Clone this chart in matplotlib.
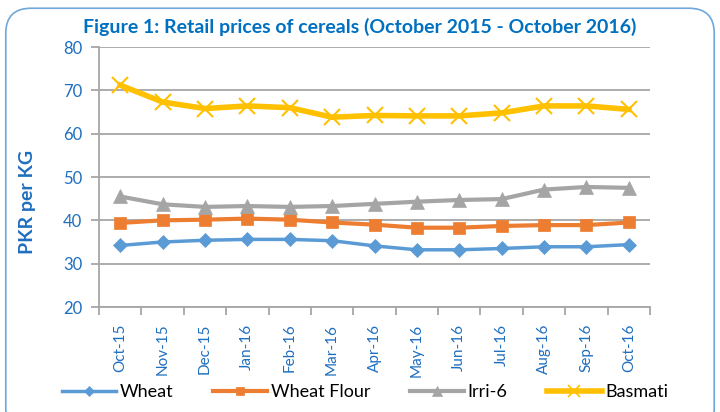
import matplotlib
matplotlib.use("Agg")
import matplotlib.pyplot as plt
from matplotlib.patches import FancyBboxPatch
from matplotlib.lines import Line2D
import numpy as np

months = ["Oct-15", "Nov-15", "Dec-15", "Jan-16", "Feb-16", "Mar-16", "Apr-16",
          "May-16", "Jun-16", "Jul-16", "Aug-16", "Sep-16", "Oct-16"]
wheat = [34.2, 35.0, 35.4, 35.6, 35.6, 35.3, 34.1, 33.2, 33.2, 33.5, 33.9, 33.9, 34.4]
wheat_flour = [39.4, 40.0, 40.15, 40.4, 40.15, 39.5, 39.0, 38.3, 38.3, 38.7, 38.9, 38.9, 39.5]
irri6 = [45.5, 43.7, 43.1, 43.3, 43.1, 43.3, 43.8, 44.3, 44.7, 44.9, 47.1, 47.7, 47.5]
basmati = [71.2, 67.3, 65.8, 66.4, 66.0, 63.8, 64.2, 64.1, 64.1, 64.8, 66.4, 66.4, 65.6]
yticks = [20, 30, 40, 50, 60, 70, 80]

FONT = ["Lato", "DejaVu Sans"]
plt.rcParams["font.family"] = FONT
BLUE = "#1F6FBF"
GRID = "#A6A6A6"

fig = plt.figure(figsize=(7.2, 4.12), dpi=100)
border = FancyBboxPatch((0.008, -0.05), 0.984, 1.03, boxstyle="round,pad=0,rounding_size=0.035",
                        transform=fig.transFigure, fill=False, edgecolor="#6FA8DC", linewidth=1.2,
                        mutation_aspect=720/412)
fig.patches.append(border)

ax = fig.add_axes([99/720, 1-307/412, (650-99)/720, (307-47)/412])
x = np.arange(len(months))

series = [
    (wheat, "Wheat", "#5B9BD5", "D", 7.5, 2.5),
    (wheat_flour, "Wheat Flour", "#ED7D31", "s", 9, 3.0),
    (irri6, "Irri-6", "#A5A5A5", "^", 10, 3.0),
    (basmati, "Basmati", "#FFC000", "x", 12, 4.0),
]
for vals, name, col, mk, ms, lw in series:
    ax.plot(x, vals, color=col, marker=mk, markersize=ms, linewidth=lw, label=name,
            markeredgewidth=1.5 if mk == "x" else 0.5, markeredgecolor=col, zorder=3)

ax.set_xlim(-0.5, len(months) - 0.5)
ax.set_ylim(20, 80)
ax.set_yticks(yticks)
ax.set_yticklabels([str(t) for t in yticks], color=BLUE, fontsize=12)
ax.yaxis.grid(True, color=GRID, linewidth=1.3)
ax.set_axisbelow(True)
ax.set_xticks(x)
ax.set_xticklabels(months, rotation=90, color=BLUE, fontsize=11)
ax.set_xticks(np.arange(-0.5, len(months), 1), minor=True)
ax.tick_params(axis="x", which="major", length=0, pad=12)
ax.tick_params(axis="x", which="minor", length=6, color=GRID, width=1.3)
ax.tick_params(axis="y", length=6, color=GRID, width=1.3, pad=6)
for s in ["top", "right"]:
    ax.spines[s].set_visible(False)
for s in ["left", "bottom"]:
    ax.spines[s].set_color(GRID)
    ax.spines[s].set_linewidth(1.3)

fig.text(28/720, 1-202/412, "PKR per KG", rotation=90, ha="center", va="center",
         color=BLUE, fontsize=14, fontweight="bold")
fig.text(0.5, 1-27/412, "Figure 1: Retail prices of cereals (October 2015 - October 2016)",
         ha="center", va="center", color="#0070C0", fontsize=14, fontweight="bold")

handles = [Line2D([0], [0], color=c, marker=m, markersize=ms*0.7, linewidth=lw,
                  markeredgecolor=c, markeredgewidth=1.2 if m == "x" else 0.5)
           for _, _, c, m, ms, lw in series]
fig.legend(handles, [s[1] for s in series], loc="center", bbox_to_anchor=(365/720, 1-392/412),
           ncol=4, frameon=False, fontsize=13, handlelength=3.0, columnspacing=2.2,
           handletextpad=0.2)

fig.savefig("out.png", dpi=100)
